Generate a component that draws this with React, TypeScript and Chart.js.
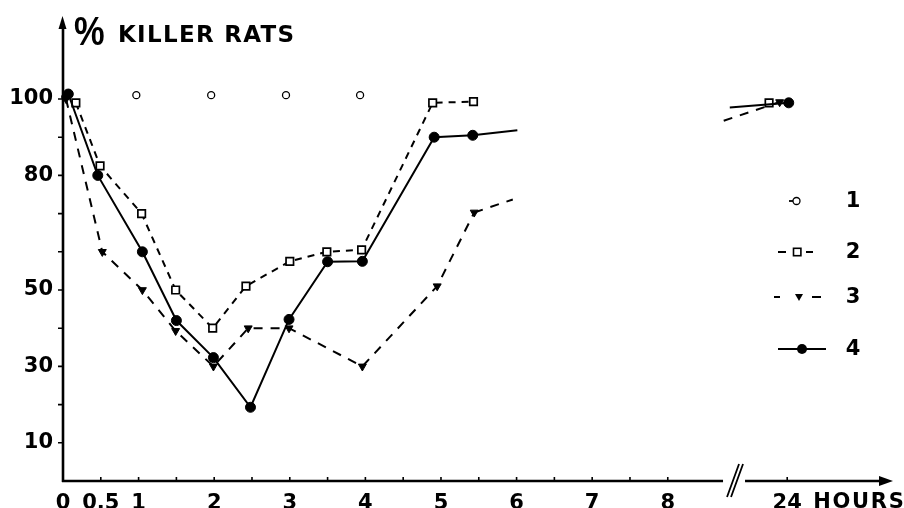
import React, { useEffect, useRef } from 'react';
import { Chart, registerables } from 'chart.js';

Chart.register(...registerables);

const FONT = "'DejaVu Sans', 'Liberation Sans', Arial, sans-serif";
const PCT_FONT = "'Liberation Sans', Arial, sans-serif";

// Positions on the drawn time axis (hours); 24 h sits just after the axis break
const xTickValues = [0, 0.5, 1, 2, 3, 4, 5, 6, 7, 8, 9.58];
const xTickLabels = ['0', '0.5', '1', '2', '3', '4', '5', '6', '7', '8', '24'];
const xMinorTicks = [0.5, 1, 1.5, 2, 2.5, 3, 3.5, 4, 4.5, 5, 5.5, 6, 6.5, 7, 7.5, 8, 9.58];
const yTickValues = [10, 30, 50, 80, 100];
const yMinorTicks = [10, 20, 30, 40, 50, 60, 70, 80, 90, 100];
const seriesLabels = ['1', '2', '3', '4'];
const breakAt = 8.85;

// Series 1 (open circles)
const s1X = [0.03, 0.97, 1.96, 2.95, 3.93];
const s1Y = [100.5, 101, 101, 101, 101];

// Series 2 (open squares, dashed)
const s2X = [0.17, 0.49, 1.04, 1.49, 1.98, 2.42, 3.0, 3.49, 3.95, 4.89, 5.43];
const s2Y = [99, 82.5, 70, 50, 40, 51, 57.5, 60, 60.5, 99, 99.3];
const s2DayX = [9.34];
const s2DayY = [99];

// Series 3 (filled down-triangles, dashed)
const s3X = [0.04, 0.52, 1.05, 1.49, 1.99, 2.45, 2.99, 3.96, 4.95, 5.44];
const s3Y = [100, 60, 50, 39.3, 30, 40, 40, 30, 51, 70.3];
const s3TailX = [5.44, 5.95];
const s3TailY = [70.3, 73.7];
const s3LeadX = [8.74, 9.48];
const s3LeadY = [94.3, 99.2];

// Series 4 (filled circles, solid)
const s4X = [0.07, 0.46, 1.05, 1.5, 1.99, 2.48, 2.99, 3.5, 3.96, 4.91, 5.42];
const s4Y = [101.3, 80, 60, 42, 32.3, 19.3, 42.3, 57.4, 57.5, 90, 90.5];
const s4TailX = [5.42, 6.01];
const s4TailY = [90.5, 91.8];
const s4LeadX = [8.82, 9.6];
const s4LeadY = [97.8, 99];

const pts = (xs: number[], ys: number[]) => xs.map((x, i) => ({ x, y: ys[i] }));

const styleS1 = { pointStyle: 'circle', pointRadius: 3.5, pointBackgroundColor: '#fff', pointBorderColor: '#000', pointBorderWidth: 1.3 };
const styleS2 = { pointStyle: 'rect', pointRadius: 5.3, pointBackgroundColor: '#fff', pointBorderColor: '#000', pointBorderWidth: 1.7 };
const styleS3 = { pointStyle: 'triangle', pointRotation: 180, pointRadius: 4.6, pointBackgroundColor: '#000', pointBorderColor: '#000', pointBorderWidth: 1 };
const styleS4 = { pointStyle: 'circle', pointRadius: 5, pointBackgroundColor: '#000', pointBorderColor: '#000', pointBorderWidth: 1 };

const lineBase = { borderColor: '#000', borderWidth: 2, tension: 0, clip: false as any };

const decorPlugin = {
  id: 'decor',
  afterDraw(chart: any) {
    const { ctx, chartArea } = chart;
    const xs = chart.scales.x;
    const ys = chart.scales.y;
    const L = chartArea.left;
    const B = chartArea.bottom;
    ctx.save();
    ctx.strokeStyle = '#000';
    ctx.fillStyle = '#000';
    ctx.lineWidth = 2.6;
    ctx.setLineDash([]);
    // y axis with arrow
    ctx.beginPath();
    ctx.moveTo(L, B + 1);
    ctx.lineTo(L, 26);
    ctx.stroke();
    ctx.beginPath();
    ctx.moveTo(L - 0.5, 16);
    ctx.lineTo(L - 4.5, 29);
    ctx.lineTo(L + 3.5, 29);
    ctx.closePath();
    ctx.fill();
    // x axis with break and arrow
    const bx = xs.getPixelForValue(breakAt);
    ctx.beginPath();
    ctx.moveTo(L - 1, B);
    ctx.lineTo(bx - 9, B);
    ctx.moveTo(bx + 13, B);
    ctx.lineTo(882, B);
    ctx.stroke();
    ctx.beginPath();
    ctx.moveTo(893, B);
    ctx.lineTo(879, B - 5);
    ctx.lineTo(879, B + 5);
    ctx.closePath();
    ctx.fill();
    ctx.lineWidth = 1.8;
    ctx.beginPath();
    ctx.moveTo(bx - 5, B + 16);
    ctx.lineTo(bx + 7, B - 17);
    ctx.moveTo(bx - 1, B + 16);
    ctx.lineTo(bx + 11, B - 17);
    ctx.stroke();
    // minor ticks
    ctx.lineWidth = 1.6;
    ctx.beginPath();
    xMinorTicks.forEach((v) => {
      const px = xs.getPixelForValue(v);
      ctx.moveTo(px, B);
      ctx.lineTo(px, B - 4);
    });
    yMinorTicks.forEach((v) => {
      const py = ys.getPixelForValue(v);
      ctx.moveTo(L, py);
      ctx.lineTo(L - 5, py);
    });
    ctx.stroke();
    // title
    ctx.textBaseline = 'alphabetic';
    ctx.textAlign = 'left';
    ctx.save();
    ctx.translate(74, 45);
    ctx.scale(0.86, 1);
    ctx.font = `bold 40px ${PCT_FONT}`;
    ctx.fillText('%', 0, 0);
    ctx.restore();
    ctx.font = `bold 23px ${FONT}`;
    (ctx as any).letterSpacing = '1.3px';
    ctx.fillText('KILLER RATS', 118, 42);
    // HOURS after the 24 label
    ctx.font = `bold 21px ${FONT}`;
    (ctx as any).letterSpacing = '1.7px';
    ctx.fillText('HOURS', xs.getPixelForValue(9.58) + 26, 508);
    (ctx as any).letterSpacing = '0px';
    // legend
    const rows = [201, 252, 297, 349];
    ctx.font = `bold 21px ${FONT}`;
    ctx.textAlign = 'center';
    ctx.textBaseline = 'middle';
    seriesLabels.forEach((lab, i) => ctx.fillText(lab, 853, rows[i] + 1));
    ctx.lineWidth = 1.8;
    // 1
    ctx.beginPath();
    ctx.moveTo(789, rows[0]);
    ctx.lineTo(793, rows[0]);
    ctx.stroke();
    ctx.lineWidth = 1.3;
    ctx.beginPath();
    ctx.arc(796.5, rows[0], 3.5, 0, Math.PI * 2);
    ctx.fillStyle = '#fff';
    ctx.fill();
    ctx.stroke();
    ctx.fillStyle = '#000';
    // 2
    ctx.lineWidth = 1.8;
    ctx.beginPath();
    ctx.moveTo(778, rows[1]);
    ctx.lineTo(786, rows[1]);
    ctx.moveTo(806, rows[1]);
    ctx.lineTo(813, rows[1]);
    ctx.stroke();
    ctx.lineWidth = 1.6;
    ctx.fillStyle = '#fff';
    ctx.fillRect(793.5, rows[1] - 3.7, 7.4, 7.4);
    ctx.strokeRect(793.5, rows[1] - 3.7, 7.4, 7.4);
    ctx.fillStyle = '#000';
    // 3
    ctx.lineWidth = 1.8;
    ctx.beginPath();
    ctx.moveTo(774, rows[2]);
    ctx.lineTo(780, rows[2]);
    ctx.moveTo(812, rows[2]);
    ctx.lineTo(821, rows[2]);
    ctx.stroke();
    ctx.beginPath();
    ctx.moveTo(795, rows[2] - 3);
    ctx.lineTo(803, rows[2] - 3);
    ctx.lineTo(799, rows[2] + 4);
    ctx.closePath();
    ctx.fill();
    // 4
    ctx.beginPath();
    ctx.moveTo(778, rows[3]);
    ctx.lineTo(826, rows[3]);
    ctx.stroke();
    ctx.beginPath();
    ctx.arc(802, rows[3], 5, 0, Math.PI * 2);
    ctx.fill();
    ctx.restore();
  },
};

export default function App() {
  const ref = useRef<HTMLCanvasElement | null>(null);
  useEffect(() => {
    if (!ref.current) return;
    const chart = new Chart(ref.current, {
      type: 'scatter',
      data: {
        datasets: [
          { label: seriesLabels[3], data: pts(s4X, s4Y), showLine: true, ...lineBase, ...styleS4 },
          { label: '4t', data: pts(s4TailX, s4TailY), showLine: true, ...lineBase, pointRadius: 0 },
          { label: '4l', data: pts(s4LeadX, s4LeadY), showLine: true, ...lineBase, ...styleS4, pointRadius: [0, 5] as any },
          { label: seriesLabels[2], data: pts(s3X, s3Y), showLine: true, ...lineBase, borderDash: [9, 8], ...styleS3 },
          { label: '3t', data: pts(s3TailX, s3TailY), showLine: true, ...lineBase, borderDash: [9, 8], pointRadius: 0 },
          { label: '3l', data: pts(s3LeadX, s3LeadY), showLine: true, ...lineBase, borderDash: [9, 8], ...styleS3, pointRadius: [0, 4.6] as any },
          { label: seriesLabels[1], data: pts(s2X, s2Y), showLine: true, ...lineBase, borderDash: [7, 6], ...styleS2 },
          { label: '2d', data: pts(s2DayX, s2DayY), showLine: false, ...lineBase, ...styleS2 },
          { label: seriesLabels[0], data: pts(s1X, s1Y), showLine: false, ...lineBase, ...styleS1 },
        ] as any,
      },
      options: {
        animation: false,
        responsive: false,
        devicePixelRatio: 1,
        layout: { padding: { top: 15, right: 17, left: 0, bottom: 0 } },
        plugins: { legend: { display: false }, tooltip: { enabled: false }, title: { display: false } },
        scales: {
          x: {
            type: 'linear',
            min: 0,
            max: 10.9,
            afterBuildTicks: (axis: any) => {
              axis.ticks = xTickValues.map((v) => ({ value: v }));
            },
            afterFit: (axis: any) => {
              axis.height = 27;
            },
            ticks: {
              autoSkip: false,
              maxRotation: 0,
              minRotation: 0,
              padding: 10,
              color: '#000',
              font: { family: FONT, size: 21, weight: 'bold' },
              callback: (v: any) => xTickLabels[xTickValues.indexOf(Number(v))] ?? '',
            },
            grid: { display: false, drawTicks: false },
            border: { display: false },
          },
          y: {
            type: 'linear',
            min: 0,
            max: 120,
            afterBuildTicks: (axis: any) => {
              axis.ticks = yTickValues.map((v) => ({ value: v }));
            },
            afterFit: (axis: any) => {
              axis.width = 63;
            },
            ticks: {
              padding: 10,
              color: '#000',
              font: { family: FONT, size: 21, weight: 'bold' },
              callback: (v: any) => String(v),
            },
            grid: { display: false, drawTicks: false },
            border: { display: false },
          },
        },
      } as any,
      plugins: [decorPlugin],
    });
    return () => chart.destroy();
  }, []);
  return (
    <div style={{ position: 'absolute', left: 0, top: 0, width: 904, height: 508, background: '#fff' }}>
      <canvas ref={ref} width={904} height={508} style={{ display: 'block', width: 904, height: 508 }} />
    </div>
  );
}
